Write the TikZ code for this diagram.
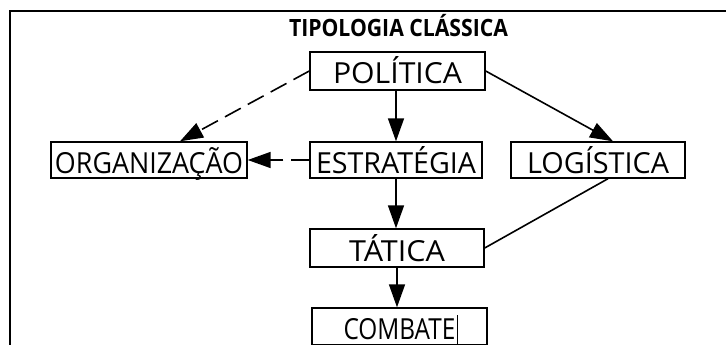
\documentclass[tikz,border=0pt]{standalone}
\usepackage{fontspec}
\usepackage{graphicx}
\setmainfont{Open Sans}
\usetikzlibrary{arrows.meta}
\begin{document}
\begin{tikzpicture}[x=1pt,y=-1pt,
  lbl/.style={draw, line width=1.4pt, rectangle, inner sep=0pt, text height=26pt, text depth=0pt, font=\fontsize{29}{30}\selectfont},
  arr/.style={line width=1.6pt, -{Triangle[length=23pt,width=16pt]}},
  dsh/.style={arr, dash pattern=on 18pt off 8pt},
  ln/.style={line width=1.6pt}]
\useasboundingbox (0,0) rectangle (726,345);
\draw[line width=1.6pt] (10,350) -- (10,11) -- (730,11);
\node[anchor=base, inner sep=0pt] (title) at (398.5,37) {\fontsize{23.8}{25}\selectfont\bfseries\resizebox{219pt}{\height}{TIPOLOGIA CLÁSSICA}};
\node[lbl, minimum width=175pt, minimum height=38pt] (POL) at (397.5,71) {\resizebox{129pt}{\height}{POLÍTICA}};
\node[lbl, minimum width=196pt, minimum height=36pt] (ORG) at (149,160) {\resizebox{188pt}{\height}{ORGANIZAÇÃO}};
\node[lbl, minimum width=172pt, minimum height=36pt] (EST) at (396,160) {\resizebox{160pt}{\height}{ESTRATÉGIA}};
\node[lbl, minimum width=174pt, minimum height=36pt] (LOG) at (598,160) {\resizebox{142pt}{\height}{LOGÍSTICA}};
\node[lbl, minimum width=174pt, minimum height=38pt] (TAT) at (397,248) {\resizebox{96pt}{\height}{TÁTICA}};
\node[lbl, minimum width=175pt, minimum height=37pt] (COM) at (399.5,326.5) {\resizebox{112pt}{\height}{COMBATE}};
\draw[dsh] (POL.west) -- ([xshift=31pt]ORG.north);
\draw[arr] (POL.south -| EST.north) -- (EST.north);
\draw[arr] (POL.east) -- ([xshift=15pt]LOG.north);
\draw[dsh] (EST.west) -- (ORG.east);
\draw[arr] (EST.south) -- (EST.south |- TAT.north);
\draw[ln] ([xshift=10pt]LOG.south) -- (TAT.east);
\draw[arr] (TAT.south) -- (TAT.south |- COM.north);
\draw[line width=1pt] (457,315) -- (457,350);
\end{tikzpicture}
\end{document}
